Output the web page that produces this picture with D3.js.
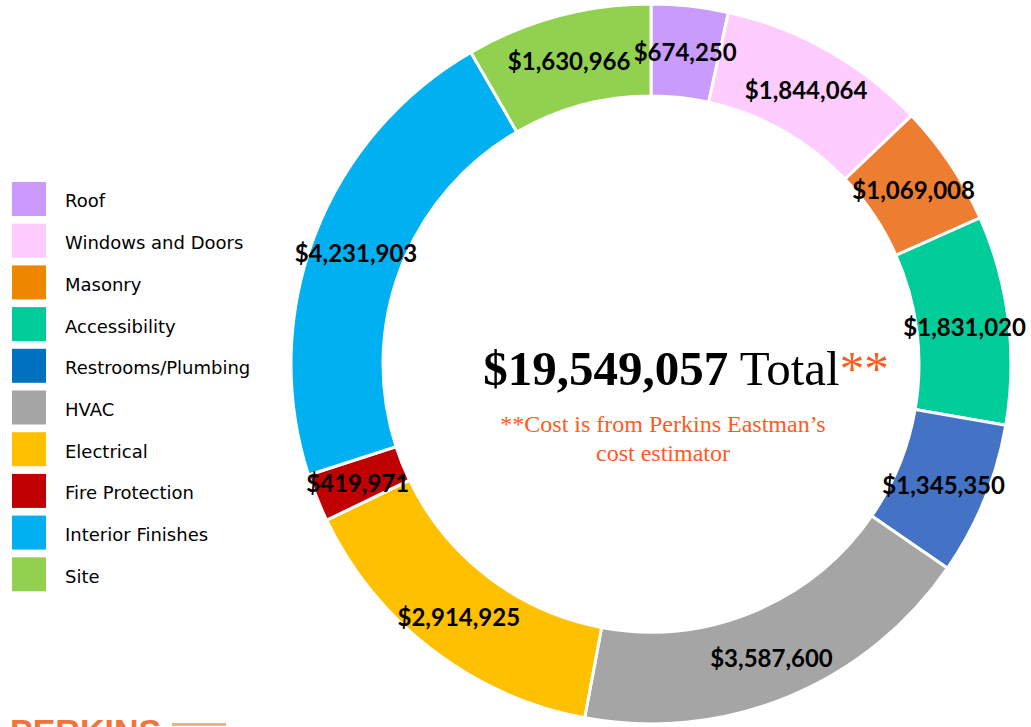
<!DOCTYPE html>
<html>
<head>
<meta charset="utf-8">
<script src="https://cdn.jsdelivr.net/npm/d3@7"></script>
<style>
  html, body { margin: 0; padding: 0; background: #fff; overflow: hidden; }
  svg { display: block; }
</style>
</head>
<body>
<svg id="chart" width="1031" height="727"></svg>
<script>
// Renovation cost breakdown by category
const categories = ["Roof", "Windows and Doors", "Masonry", "Accessibility", "Restrooms/Plumbing",
                    "HVAC", "Electrical", "Fire Protection", "Interior Finishes", "Site"];
const costs = [674250, 1844064, 1069008, 1831020, 1345350, 3587600, 2914925, 419971, 4231903, 1630966];
const sliceColors = ["#C99BFB", "#FFCCFF", "#ED7D31", "#00CC99", "#4472C4",
                     "#A5A5A5", "#FFC000", "#C00000", "#00B0F0", "#92D050"];
const legendColors = ["#CC99FF", "#FFCCFF", "#EE8600", "#00CC99", "#0070C0",
                      "#A5A5A5", "#FFC000", "#C00000", "#00B0F0", "#92D050"];
const totalLabel = "$19,549,057";
const noteLines = ["**Cost is from Perkins Eastman\u2019s", "cost estimator"];

const svg = d3.select("#chart");
const cx = 651, cy = 364;
const outerR = 360, innerR = 268, labelR = 316;

const fmt = d3.format("$,");
const rows = categories.map((c, i) => ({ name: c, value: costs[i], color: sliceColors[i], legend: legendColors[i] }));

const pie = d3.pie().sort(null).value(d => d.value);
const arc = d3.arc().innerRadius(innerR).outerRadius(outerR);
const labelArc = d3.arc().innerRadius(labelR).outerRadius(labelR);

const g = svg.append("g").attr("transform", `translate(${cx},${cy})`);
const arcs = pie(rows);

g.selectAll("path.slice")
  .data(arcs)
  .join("path")
  .attr("class", "slice")
  .attr("d", arc)
  .attr("fill", d => d.data.color)
  .attr("stroke", "#fff")
  .attr("stroke-width", 3);

g.selectAll("text.val")
  .data(arcs)
  .join("text")
  .attr("class", "val")
  .attr("transform", d => `translate(${labelArc.centroid(d)})`)
  .attr("text-anchor", "middle")
  .attr("dy", "0.45em")
  .style("font-family", "Lato, 'Open Sans', sans-serif")
  .style("font-weight", 700)
  .style("font-size", "24px")
  .attr("fill", "#000")
  .text(d => fmt(d.data.value));

// Centre total
const total = svg.append("text")
  .attr("x", 686).attr("y", 385)
  .attr("text-anchor", "middle")
  .style("font-family", "'Liberation Serif', 'DejaVu Serif', serif")
  .style("font-size", "49px");
total.append("tspan").style("font-weight", 700).attr("fill", "#000").text(totalLabel);
total.append("tspan").attr("fill", "#000").text(" Total");
total.append("tspan").attr("fill", "#FF5B1F").text("**");

svg.selectAll("text.note")
  .data(noteLines)
  .join("text")
  .attr("class", "note")
  .attr("x", 663)
  .attr("y", (d, i) => 432 + i * 29)
  .attr("text-anchor", "middle")
  .style("font-family", "'Liberation Serif', 'DejaVu Serif', serif")
  .style("font-size", "24px")
  .attr("fill", "#FF5B1F")
  .text(d => d);

// Legend
const legend = svg.append("g").attr("transform", "translate(12,182)");
const item = legend.selectAll("g.item")
  .data(rows)
  .join("g")
  .attr("class", "item")
  .attr("transform", (d, i) => `translate(0,${i * 41.7})`);
item.append("rect")
  .attr("width", 34).attr("height", 34)
  .attr("fill", d => d.legend);
item.append("text")
  .attr("x", 53).attr("y", 19).attr("dy", "0.36em")
  .style("font-family", "'DejaVu Sans', sans-serif")
  .style("font-size", "18px")
  .attr("fill", "#000")
  .text(d => d.name);

// Firm mark along the bottom edge
svg.append("text")
  .attr("x", 10).attr("y", 743)
  .style("font-family", "'Liberation Sans', Arial, sans-serif")
  .style("font-weight", 700)
  .style("font-size", "34px")
  .attr("fill", "#F26522")
  .attr("opacity", 0.9)
  .text("PERKINS");
svg.append("rect")
  .attr("x", 172).attr("y", 723).attr("width", 54).attr("height", 3)
  .attr("fill", "#F7B27A");
</script>
</body>
</html>
